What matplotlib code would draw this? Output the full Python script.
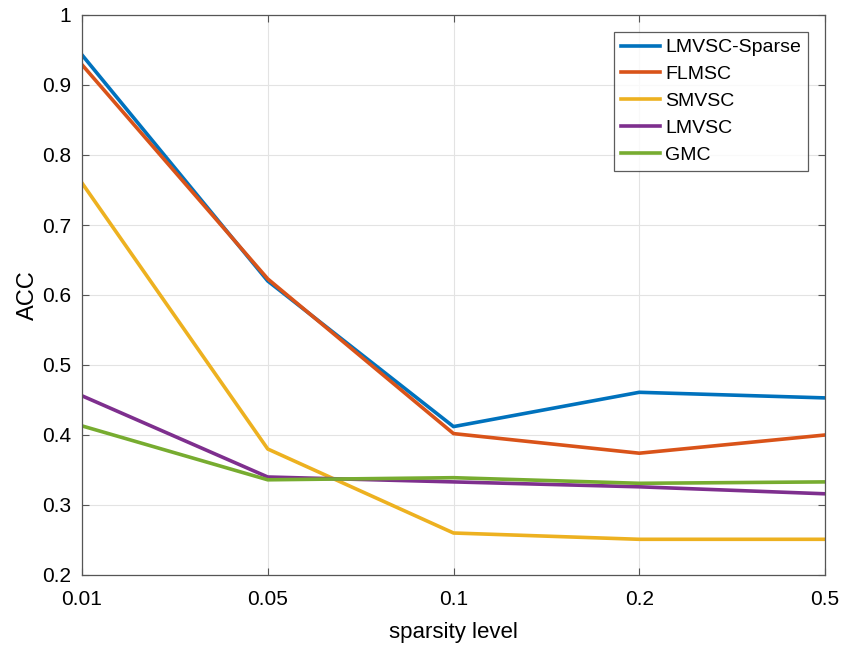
import matplotlib
matplotlib.use("Agg")
import matplotlib.pyplot as plt

plt.rcParams['font.family'] = ['Liberation Sans', 'DejaVu Sans']

levels = ["0.01", "0.05", "0.1", "0.2", "0.5"]
lmvsc_sparse = [0.943, 0.620, 0.412, 0.461, 0.453]
flmsc = [0.929, 0.623, 0.402, 0.374, 0.400]
smvsc = [0.760, 0.380, 0.260, 0.251, 0.251]
lmvsc = [0.456, 0.340, 0.333, 0.326, 0.316]
gmc = [0.413, 0.336, 0.339, 0.331, 0.333]

series = [
    ("LMVSC-Sparse", lmvsc_sparse, "#0072BD"),
    ("FLMSC", flmsc, "#D95319"),
    ("SMVSC", smvsc, "#EDB120"),
    ("LMVSC", lmvsc, "#7E2F8E"),
    ("GMC", gmc, "#77AC30"),
]

fig = plt.figure(figsize=(8.5, 6.48), dpi=100)
ax = fig.add_axes([82/850, 73/648, 743/850, 560/648])

x = list(range(len(levels)))
for name, vals, col in series:
    ax.plot(x, vals, color=col, linewidth=2.6, label=name)

ax.set_xlim(0, len(levels) - 1)
ax.set_ylim(0.2, 1.0)
ax.set_xticks(x)
ax.set_xticklabels(levels)
ax.set_yticks([0.2, 0.3, 0.4, 0.5, 0.6, 0.7, 0.8, 0.9, 1.0])
ax.set_yticklabels(["0.2", "0.3", "0.4", "0.5", "0.6", "0.7", "0.8", "0.9", "1"])
ax.grid(True, color="#e3e3e3", linewidth=0.8)
ax.set_axisbelow(True)
for s in ax.spines.values():
    s.set_color("#555555")
    s.set_linewidth(0.9)
ax.tick_params(direction="in", labelsize=15, labelcolor="black", colors="#555555",
               length=5, top=True, right=True)
ax.tick_params(axis="y", pad=8)
ax.tick_params(axis="x", pad=11)
ax.set_xlabel("sparsity level", fontsize=16, labelpad=9)
ax.set_ylabel("ACC", fontsize=17, labelpad=2)

leg = ax.legend(loc="upper right", fontsize=14, frameon=True, fancybox=False,
                edgecolor="#333333", handlelength=2.0, handletextpad=0.3,
                borderaxespad=0.87, labelspacing=0.48, borderpad=0.35)
leg.get_frame().set_linewidth(0.9)

plt.savefig("out.png", dpi=100)
